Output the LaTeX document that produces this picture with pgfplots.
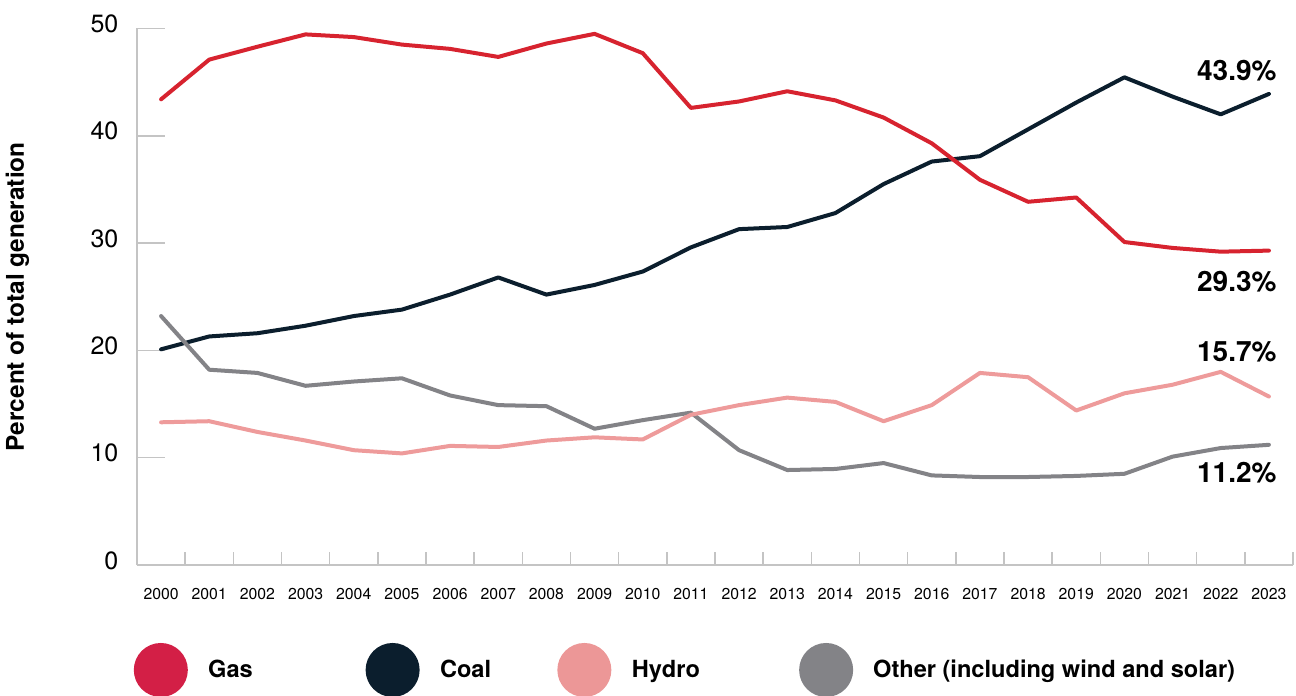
\documentclass[border=0pt]{standalone}
\usepackage{pgfplots}
\pgfplotsset{compat=1.18}
\usepackage{pgfplotstable}
\usepackage{fontspec}
\setmainfont{TeX Gyre Heros}

\definecolor{gasline}{HTML}{D7232F}
\definecolor{gaskey}{HTML}{D31F46}
\definecolor{coal}{HTML}{0B1E2D}
\definecolor{hydro}{HTML}{EE9B9B}
\definecolor{hydrokey}{HTML}{EC9797}
\definecolor{other}{HTML}{838387}
\definecolor{axisgray}{HTML}{C4C4C4}

% Share of total electricity generation, percent
\pgfplotstableread{
idx year gas   coal  hydro other
0  2000 43.4  20.1  13.3  23.2
1  2001 47.1  21.3  13.4  18.2
2  2002 48.3  21.6  12.4  17.9
3  2003 49.45 22.3  11.6  16.7
4  2004 49.2  23.2  10.7  17.1
5  2005 48.5  23.8  10.4  17.4
6  2006 48.1  25.2  11.1  15.8
7  2007 47.35 26.8  11.0  14.9
8  2008 48.6  25.2  11.6  14.8
9  2009 49.5  26.1  11.9  12.7
10 2010 47.7  27.35 11.7  13.5
11 2011 42.6  29.6  14.0  14.2
12 2012 43.2  31.3  14.9  10.7
13 2013 44.15 31.5  15.6  8.85
14 2014 43.3  32.8  15.2  8.95
15 2015 41.7  35.5  13.4  9.5
16 2016 39.3  37.6  14.9  8.35
17 2017 35.9  38.1  17.9  8.2
18 2018 33.85 40.6  17.5  8.2
19 2019 34.25 43.1  14.4  8.3
20 2020 30.1  45.45 16.0  8.5
21 2021 29.55 43.65 16.8  10.1
22 2022 29.2  42.0  18.0  10.9
23 2023 29.3  43.9  15.7  11.2
}\gendata

\begin{document}
\begin{tikzpicture}
\path[use as bounding box] (-68.5pt,-65.5pt) rectangle (579.5pt,282.5pt);
\begin{axis}[
  at={(0pt,0pt)}, anchor=south west,
  scale only axis, width=578pt, height=268.25pt,
  xmin=-0.5, xmax=23.5, ymin=0, ymax=50,
  axis x line*=bottom, axis y line*=left,
  axis line style={-, draw=axisgray, line width=0.75pt},
  xtick={0,...,23},
  xticklabels={2000,2001,2002,2003,2004,2005,2006,2007,2008,2009,2010,2011,
               2012,2013,2014,2015,2016,2017,2018,2019,2020,2021,2022,2023},
  major x tick style={draw=none},
  minor xtick={-0.5,0.5,...,23.5},
  minor x tick style={draw=axisgray, line width=0.75pt},
  minor tick length=6.5pt,
  ytick={0,10,...,50},
  ytick style={draw=axisgray, line width=0.75pt},
  major tick length=14pt,
  tick align=inside,
  /pgf/number format/assume math mode=true,
  xticklabel style={font=\fontsize{7.9}{9}\selectfont, yshift=-8.3pt},
  yticklabel style={font=\fontsize{12.5}{14}\selectfont, xshift=-5.8pt, yshift=2.25pt},
  ylabel={Percent of total generation},
  every axis y label/.style={at={(axis description cs:-0.1035,0.5)}, rotate=90,
    anchor=center, font=\bfseries\fontsize{12.2}{14}\selectfont},
  legend columns=4,
  legend style={
    at={(axis description cs:-0.0031,-0.1957)}, anchor=west,
    draw=none, fill=none, inner sep=0pt, row sep=0pt,
    nodes={inner sep=0pt},
    font=\bfseries\fontsize{11.8}{14}\selectfont,
    /tikz/column 1/.style={column sep=10.2pt},
    /tikz/column 2/.style={column sep=56.4pt},
    /tikz/column 3/.style={column sep=10.2pt},
    /tikz/column 4/.style={column sep=33.1pt},
    /tikz/column 5/.style={column sep=10.2pt},
    /tikz/column 6/.style={column sep=49.6pt},
    /tikz/column 7/.style={column sep=10pt},
  },
  legend cell align=left,
  every axis plot/.append style={line width=2pt, line join=round, line cap=round},
]
% legend keys: filled discs in the order Gas, Coal, Hydro, Other
\addlegendimage{legend image code/.code={\fill[gaskey] (12.5pt,0pt) circle (12.5pt);}}
\addlegendentry{Gas}
\addlegendimage{legend image code/.code={\fill[coal] (12.5pt,0pt) circle (12.5pt);}}
\addlegendentry{Coal}
\addlegendimage{legend image code/.code={\fill[hydrokey] (12.5pt,0pt) circle (12.5pt);}}
\addlegendentry{Hydro}
\addlegendimage{legend image code/.code={\fill[other] (12.5pt,0pt) circle (12.5pt);}}
\addlegendentry{Other (including wind and solar)}

% series lines
\addplot[coal, forget plot] table[x=idx, y=coal] {\gendata};
\addplot[other, forget plot] table[x=idx, y=other] {\gendata};
\addplot[hydro, forget plot] table[x=idx, y=hydro] {\gendata};
\addplot[gasline, forget plot] table[x=idx, y=gas] {\gendata};

% end-of-series values
\tikzset{endval/.style={anchor=base east, inner sep=0pt, xshift=4pt,
  font=\bfseries\fontsize{14}{16}\selectfont}}
\node[endval, yshift=6.5pt]  at (axis cs:23,43.9) {43.9\%};
\node[endval, yshift=-20.5pt] at (axis cs:23,29.3) {29.3\%};
\node[endval, yshift=17.5pt] at (axis cs:23,15.7) {15.7\%};
\node[endval, yshift=-19pt]  at (axis cs:23,11.2) {11.2\%};
\end{axis}
\end{tikzpicture}
\end{document}
